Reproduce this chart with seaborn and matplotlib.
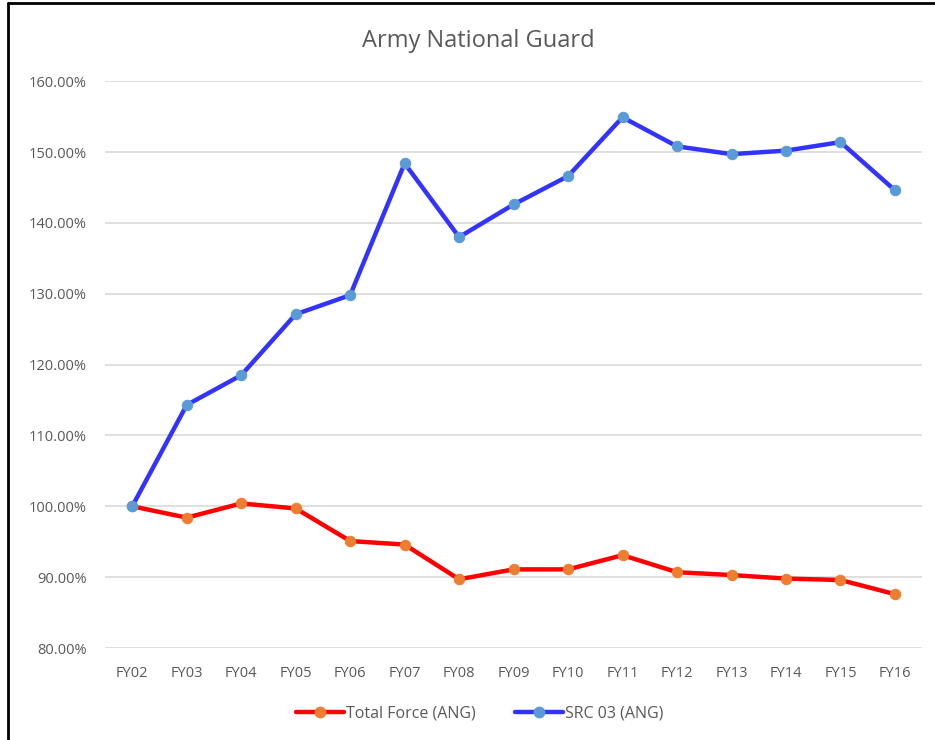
import seaborn as sns
import pandas as pd
import matplotlib.pyplot as plt
from matplotlib.ticker import FuncFormatter
from matplotlib.lines import Line2D

years = ['FY02', 'FY03', 'FY04', 'FY05', 'FY06', 'FY07', 'FY08', 'FY09',
         'FY10', 'FY11', 'FY12', 'FY13', 'FY14', 'FY15', 'FY16']
total_force = [100.0, 98.4, 100.4, 99.7, 95.1, 94.6, 89.7, 91.1,
               91.1, 93.1, 90.7, 90.3, 89.8, 89.6, 87.6]
src03 = [100.0, 114.3, 118.5, 127.1, 129.8, 148.4, 138.0, 142.6,
         146.6, 154.9, 150.8, 149.7, 150.2, 151.4, 144.6]

sns.set_style('white')
plt.rcParams['font.family'] = ['Open Sans', 'DejaVu Sans']

df = pd.DataFrame({'year': years, 'Total Force (ANG)': total_force,
                   'SRC 03 (ANG)': src03})
df['x'] = range(len(years))

fig = plt.figure(figsize=(9.35, 7.4), dpi=100)
ax = fig.add_axes([0.1123, 0.1243, 0.874, 0.766])

grey = '#595959'
sns.lineplot(data=df, x='x', y='Total Force (ANG)', ax=ax, color='#ff0000',
             linewidth=3.2, marker='o', markersize=7.5,
             markerfacecolor='#ed7d31', markeredgecolor='#ed7d31', zorder=3)
sns.lineplot(data=df, x='x', y='SRC 03 (ANG)', ax=ax, color='#3333ff',
             linewidth=3.2, marker='o', markersize=7.5,
             markerfacecolor='#5b9bd5', markeredgecolor='#5b9bd5', zorder=3)

ax.set_xlim(-0.5, len(years) - 0.5)
ax.set_ylim(80, 160)
ax.set_yticks(range(80, 161, 10))
ax.yaxis.set_major_formatter(FuncFormatter(lambda v, p: f'{v:.2f}%'))
ax.set_xticks(df['x'])
ax.set_xticklabels(years)
ax.tick_params(axis='both', colors=grey, labelsize=10.5, length=0)
ax.tick_params(axis='x', pad=13)
ax.tick_params(axis='y', pad=13)
ax.grid(axis='y', color='#d9d9d9', linewidth=1.2)
ax.set_axisbelow(True)
for s in ax.spines.values():
    s.set_visible(False)
ax.set_xlabel('')
ax.set_ylabel('')

fig.text(0.512, 0.945, 'Army National Guard', ha='center', va='center',
         fontsize=17, color=grey)

handles = [
    Line2D([], [], color='#ff0000', lw=3.2, marker='o', markersize=7.5,
           markerfacecolor='#ed7d31', markeredgecolor='#ed7d31'),
    Line2D([], [], color='#3333ff', lw=3.2, marker='o', markersize=7.5,
           markerfacecolor='#5b9bd5', markeredgecolor='#5b9bd5'),
]
fig.legend(handles, ['Total Force (ANG)', 'SRC 03 (ANG)'], loc='center',
           bbox_to_anchor=(0.513, 0.036), ncol=2, frameon=False,
           fontsize=11.5, labelcolor=grey, handlelength=3, handletextpad=0.1,
           columnspacing=2.5)

# frame edges of the original screenshot
fig.add_artist(Line2D([0.009, 0.009], [0, 0.996], color='black', lw=2,
                      transform=fig.transFigure))
fig.add_artist(Line2D([0.009, 1], [0.996, 0.996], color='black', lw=2,
                      transform=fig.transFigure))

fig.savefig('out.png', dpi=100)
